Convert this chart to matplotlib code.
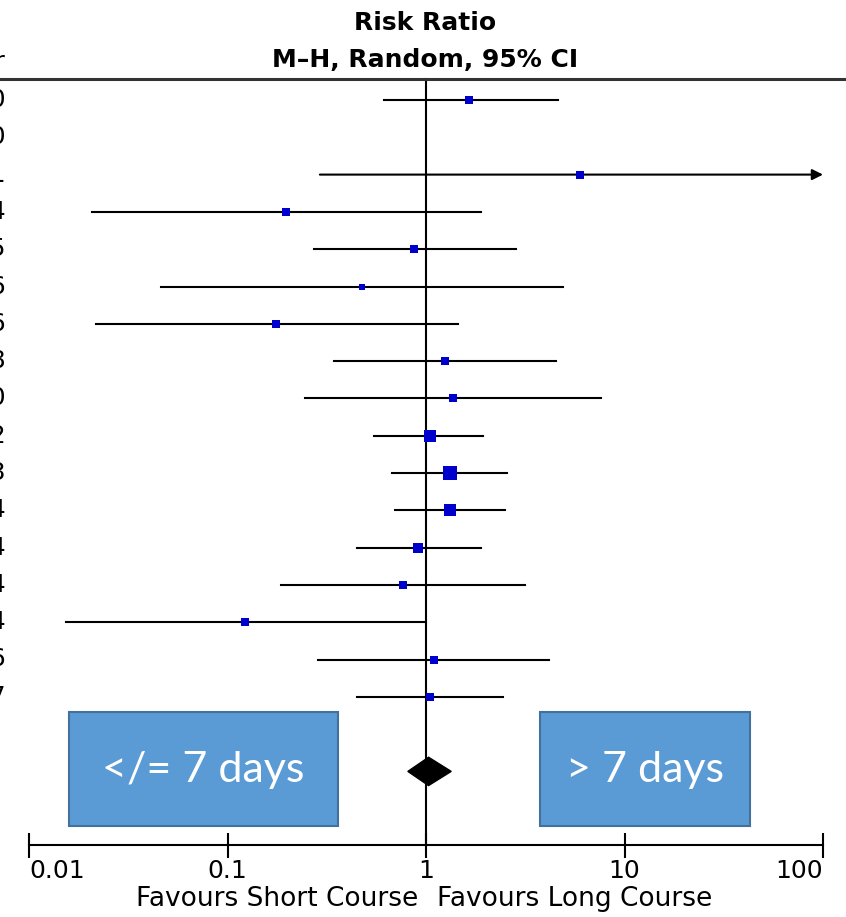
import numpy as np
import matplotlib
matplotlib.use("Agg")
import matplotlib.pyplot as plt
from matplotlib.patches import Rectangle, Polygon

# study rows (row 2 not estimable)
years = ["2000", "2010", "2011", "2004", "2005", "2006", "2006", "2008", "2010",
         "2012", "2013", "2014", "2014", "2014", "2014", "2016", "2017"]
rr = [1.65, np.nan, 5.97, 0.197, 0.87, 0.476, 0.175, 1.25, 1.37,
      1.05, 1.32, 1.32, 0.91, 0.766, 0.122, 1.10, 1.05]
ci_lo = [0.614, np.nan, 0.292, 0.0208, 0.273, 0.0462, 0.0218, 0.344, 0.246,
         0.547, 0.674, 0.698, 0.449, 0.186, 0.0154, 0.286, 0.449]
ci_hi = [4.62, np.nan, 150.0, 1.89, 2.84, 4.90, 1.45, 4.52, 7.62,
         1.94, 2.56, 2.50, 1.89, 3.15, 1.0, 4.17, 2.44]
weights = [5.2, 0.0, 4.0, 4.0, 5.2, 2.9, 4.0, 5.2, 4.0,
           11.6, 13.7, 11.6, 8.1, 5.2, 5.2, 5.2, 5.2]
pooled = (1.03, 0.81, 1.34)
ticks = [0.01, 0.1, 1, 10, 100]
tick_labels = ["0.01", "0.1", "1", "10", "100"]

fig = plt.figure(figsize=(8.46, 9.17), dpi=100)
ax = fig.add_axes([0, 0, 1, 1])
ax.set_xscale("log")
# pixel layout: 1 at x=426, one decade = 198.5 px; rows start at y=100, step 37.3 px
dec = 198.5
ax.set_xlim(10 ** ((0 - 426) / dec), 10 ** ((846 - 426) / dec))
row_h = 37.3
ax.set_ylim((917 - 100) / row_h, (0 - 100) / row_h)
for s in ["top", "left", "right"]:
    ax.spines[s].set_visible(False)
ax.set_yticks([])

blue = "#0000CC"
n = len(rr)
for i in range(n):
    if not np.isnan(rr[i]):
        if ci_hi[i] > 100:
            ax.annotate("", xy=(100, i), xytext=(ci_lo[i], i),
                        arrowprops=dict(arrowstyle="-|>", color="black", lw=1.5,
                                        mutation_scale=16, shrinkA=0, shrinkB=0))
        else:
            ax.plot([ci_lo[i], ci_hi[i]], [i, i], color="black", lw=1.5, zorder=2)
        side = 3.52 * np.sqrt(weights[i]) * 0.72
        ax.plot(rr[i], i, marker="s", ms=side, color=blue, mec=blue, mew=0, zorder=3)
    # year column, cut off at the left edge like the source image
    fig.text(6 / 846, 1 - (100 + row_h * i) / 917, years[i], ha="right", va="center",
             fontsize=18, color="black")
fig.text(5 / 846, 1 - 62 / 917, "Year", ha="right", va="center", fontsize=18)

# pooled diamond
y_d = 18.0
est, lo, hi = pooled
ax.add_patch(Polygon([(lo, y_d), (est, y_d - 0.38), (hi, y_d), (est, y_d + 0.38)],
                     closed=True, color="black", zorder=3))

# header line and line of no effect
y_head = (79 - 100) / row_h
y_axis = (845 - 100) / row_h
ax.axhline(y_head, color="#333333", lw=2.2)
ax.plot([1, 1], [y_head, y_axis], color="black", lw=1.5, zorder=1)

ax.spines["bottom"].set_position(("data", y_axis))
ax.spines["bottom"].set_bounds(0.01, 100)
ax.spines["bottom"].set_linewidth(1.5)
ax.set_xticks(ticks)
ax.set_xticklabels(tick_labels, fontsize=18)
ax.xaxis.set_minor_locator(matplotlib.ticker.NullLocator())
ax.tick_params(axis="x", direction="inout", length=18, width=1.5, pad=1)
labs = ax.get_xticklabels()
labs[0].set_ha("left")
labs[-1].set_ha("right")

fig.text(425 / 846, 1 - 23 / 917, "Risk Ratio", ha="center", va="center",
         fontsize=18, fontweight="bold")
fig.text(425 / 846, 1 - 60 / 917, "M\u2013H, Random, 95% CI", ha="center", va="center",
         fontsize=18, fontweight="bold")
fig.text(418 / 846, 1 - 899 / 917, "Favours Short Course", ha="right", va="center",
         fontsize=19)
fig.text(437 / 846, 1 - 899 / 917, "Favours Long Course", ha="left", va="center",
         fontsize=19)

# duration boxes
for (x0, x1, label) in [(69, 338, "</= 7 days"), (540, 750, "> 7 days")]:
    fig.patches.append(Rectangle((x0 / 846, 1 - 826 / 917), (x1 - x0) / 846, 114 / 917,
                                 transform=fig.transFigure, facecolor="#5B9BD5",
                                 edgecolor="#41719C", lw=1.5, zorder=5))
    fig.text((x0 + x1) / 2 / 846, 1 - 770 / 917, label, ha="center", va="center",
             fontsize=31, color="white", family="Lato", zorder=6)

fig.savefig("out.png", dpi=100)
